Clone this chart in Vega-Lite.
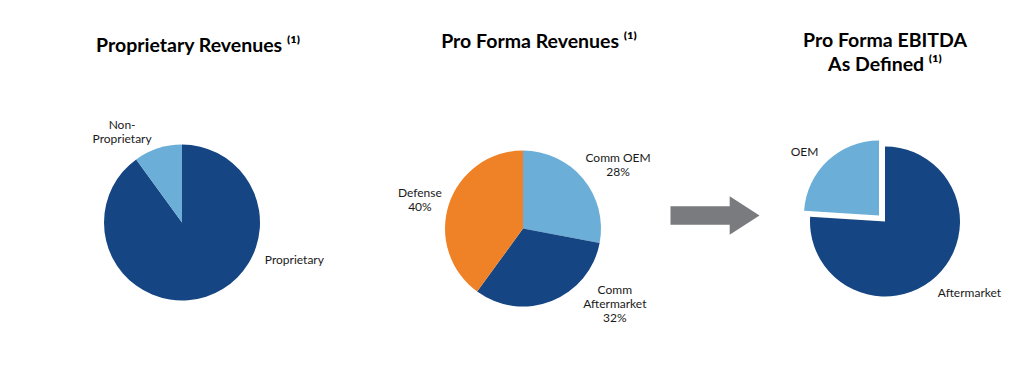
{
  "$schema": "https://vega.github.io/schema/vega-lite/v6.json",
  "background": "white",
  "padding": {"left": 0, "top": 30.5, "right": 0, "bottom": 0},
  "bounds": "flush",
  "spacing": 0,
  "resolve": {"scale": {"color": "independent", "theta": "independent"}},
  "config": {
    "view": {"stroke": null},
    "title": {"font": "Lato", "fontSize": 19.5, "fontWeight": "bold", "color": "#000000", "anchor": "middle", "frame": "group", "lineHeight": 24},
    "text": {"font": "Lato", "fontSize": 12, "color": "#1a1a1a"}
  },
  "datasets": {
    "proprietary": [
      {"segment": "Proprietary", "label": "Proprietary", "share": 90, "rank": 1},
      {"segment": "Non-Proprietary", "label": "Non-\nProprietary", "share": 10, "rank": 2}
    ],
    "revenues": [
      {"segment": "Comm OEM", "label": "Comm OEM\n28%", "share": 28, "rank": 1},
      {"segment": "Comm Aftermarket", "label": "Comm\nAftermarket\n32%", "share": 32, "rank": 2},
      {"segment": "Defense", "label": "Defense\n40%", "share": 40, "rank": 3}
    ],
    "ebitda": [
      {"segment": "Aftermarket", "label": "Aftermarket", "share": 76, "rank": 1},
      {"segment": "OEM", "label": "OEM", "share": 24, "rank": 2}
    ],
    "arrow": [{"item": "arrow"}]
  },
  "hconcat": [
    {
      "width": 364, "height": 246,
      "title": {"text": "Proprietary Revenues ⁽¹⁾", "dx": 16, "offset": 43.5},
      "data": {"name": "proprietary"},
      "encoding": {
        "theta": {"field": "share", "type": "quantitative", "stack": true},
        "order": {"field": "rank", "type": "ordinal"}
      },
      "layer": [
        {
          "mark": {"type": "arc", "radius": 78},
          "encoding": {"color": {"field": "segment", "type": "nominal", "legend": null,
            "scale": {"domain": ["Proprietary", "Non-Proprietary"], "range": ["#154582", "#6BAED8"]}}}
        },
        {
          "mark": {"type": "text", "radius": 100, "dx": -29, "dy": -2, "lineBreak": "\n"},
          "encoding": {"text": {"condition": {"test": "datum.segment === 'Non-Proprietary'", "field": "label", "type": "nominal"}, "value": ""}}
        },
        {
          "mark": {"type": "text", "radius": 40, "dx": 100, "dy": -1, "lineBreak": "\n"},
          "encoding": {"text": {"condition": {"test": "datum.segment === 'Proprietary'", "field": "label", "type": "nominal"}, "value": ""}}
        }
      ]
    },
    {
      "width": 318, "height": 258,
      "title": {"text": "Pro Forma Revenues ⁽¹⁾", "dx": 16, "offset": 47.5},
      "data": {"name": "revenues"},
      "encoding": {
        "theta": {"field": "share", "type": "quantitative", "stack": true},
        "order": {"field": "rank", "type": "ordinal"}
      },
      "layer": [
        {
          "mark": {"type": "arc", "radius": 78},
          "encoding": {"color": {"field": "segment", "type": "nominal", "legend": null,
            "scale": {"domain": ["Comm OEM", "Comm Aftermarket", "Defense"], "range": ["#6BAED8", "#154582", "#EF8226"]}}}
        },
        {
          "mark": {"type": "text", "radius": 100, "dx": 18, "dy": -7, "lineBreak": "\n"},
          "encoding": {"text": {"condition": {"test": "datum.segment === 'Comm OEM'", "field": "label", "type": "nominal"}, "value": ""}}
        },
        {
          "mark": {"type": "text", "radius": 100, "dx": 55, "dy": -31, "lineBreak": "\n"},
          "encoding": {"text": {"condition": {"test": "datum.segment === 'Comm Aftermarket'", "field": "label", "type": "nominal"}, "value": ""}}
        },
        {
          "mark": {"type": "text", "radius": 100, "dx": -8, "dy": -5, "lineBreak": "\n"},
          "encoding": {"text": {"condition": {"test": "datum.segment === 'Defense'", "field": "label", "type": "nominal"}, "value": ""}}
        }
      ]
    },
    {
      "width": 66, "height": 232,
      "data": {"name": "arrow"},
      "mark": {"type": "point", "filled": true, "opacity": 1, "color": "#7A7B7E", "size": 7921,
        "shape": "M-1,-0.21 L0.33,-0.21 L0.33,-0.43 L1,0 L0.33,0.43 L0.33,0.21 L-1,0.21 Z"},
      "encoding": {}
    },
    {
      "width": 274, "height": 244,
      "title": {"text": ["Pro Forma EBITDA", "As Defined ⁽¹⁾"], "offset": 24.5},
      "data": {"name": "ebitda"},
      "encoding": {
        "theta": {"field": "share", "type": "quantitative", "stack": true},
        "order": {"field": "rank", "type": "ordinal"}
      },
      "layer": [
        {
          "mark": {"type": "arc", "radius": 75},
          "encoding": {
            "color": {"field": "segment", "type": "nominal", "legend": null,
              "scale": {"domain": ["Aftermarket", "OEM"], "range": ["#154582", "#6BAED8"]}},
            "opacity": {"condition": {"test": "datum.segment === 'OEM'", "value": 0}, "value": 1}
          }
        },
        {
          "mark": {"type": "arc", "radius": 75, "xOffset": -6, "yOffset": -6},
          "encoding": {
            "color": {"field": "segment", "type": "nominal", "legend": null},
            "opacity": {"condition": {"test": "datum.segment === 'OEM'", "value": 1}, "value": 0}
          }
        },
        {
          "mark": {"type": "text", "radius": 100, "dx": 16, "dy": -1, "lineBreak": "\n"},
          "encoding": {"text": {"condition": {"test": "datum.segment === 'Aftermarket'", "field": "label", "type": "nominal"}, "value": ""}}
        },
        {
          "mark": {"type": "text", "radius": 100, "dx": -12, "dy": 3, "lineBreak": "\n"},
          "encoding": {"text": {"condition": {"test": "datum.segment === 'OEM'", "field": "label", "type": "nominal"}, "value": ""}}
        }
      ]
    }
  ]
}
